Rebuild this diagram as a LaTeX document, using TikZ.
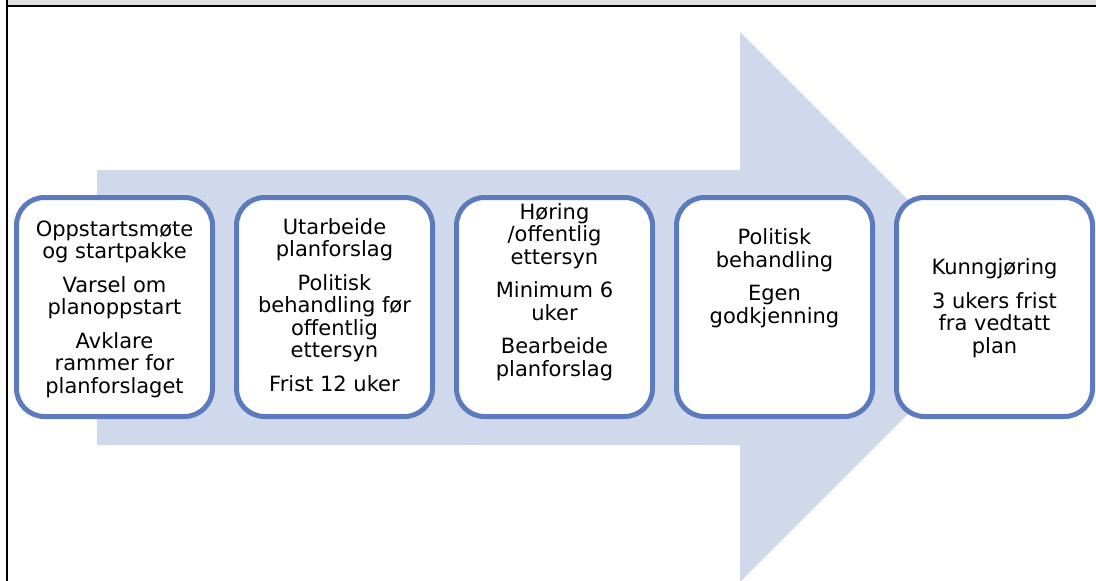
\documentclass[tikz,border=0pt]{standalone}
\usepackage{fontspec}
\setmainfont{DejaVu Sans}
\usetikzlibrary{positioning}
\definecolor{arrowfill}{RGB}{208,216,235}
\definecolor{boxline}{RGB}{91,123,189}
\definecolor{topstrip}{RGB}{223,223,223}

\begin{document}
\begin{tikzpicture}[x=1pt,y=-1pt,
	stage/.style={draw=boxline, line width=5pt, fill=white, rounded corners=28pt, minimum width=196pt, minimum height=219pt, inner sep=0pt},
	stagetext/.style={align=center, font=\fontsize{21}{22.5}\selectfont, inner sep=0pt}]
				\useasboundingbox (0,0) rectangle (1096,581);
				% frame
				\fill[topstrip] (8,0) rectangle (1096,5);
				\draw[line width=2pt] (7,0) -- (7,581);
				\draw[line width=2pt] (6,6) -- (1096,6);
				% big arrow behind the stages
				\fill[arrowfill] (97,170) -- (740,170) -- (740,32) -- (1015,307) -- (740,582) -- (740,445) -- (97,445) -- cycle;
				\node[stage] (s1) at (114.5,307) {};
				\node[stage] (s2) at (334.5,307) {};
				\node[stage] (s3) at (554.5,307) {};
				\node[stage] (s4) at (774.5,307) {};
				\node[stage] (s5) at (994.5,307) {};
				\node[stagetext] (t1) at (114.5,309) {Oppstartsmøte\\og startpakke\\[11pt]Varsel om\\planoppstart\\[11pt]Avklare\\rammer for\\planforslaget};
				\node[stagetext] (t2) at (334.5,305) {Utarbeide\\planforslag\\[11pt]Politisk\\behandling før\\offentlig\\ettersyn\\[11pt]Frist 12 uker};
				\node[stagetext] (t3) at (554.5,292) {Høring\\/offentlig\\ettersyn\\[11pt]Minimum 6\\uker\\[11pt]Bearbeide\\planforslag};
				\node[stagetext] (t4) at (774.5,278) {Politisk\\behandling\\[11pt]Egen\\godkjenning};
				\node[stagetext] (t5) at (994.5,308) {Kunngjøring\\[11pt]3 ukers frist\\fra vedtatt\\plan};
\end{tikzpicture}
\end{document}
